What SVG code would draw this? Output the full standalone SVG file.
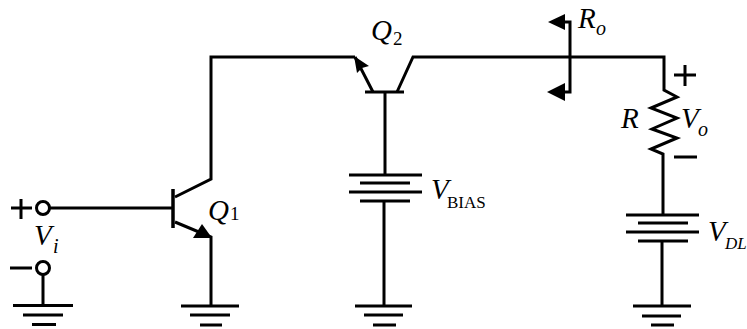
<svg xmlns="http://www.w3.org/2000/svg" width="747" height="329" viewBox="0 0 747 329">
<style>
.w{fill:none;stroke:#000;stroke-width:3;stroke-linejoin:miter}
.t{stroke-width:3.500}
.h{fill:#000;stroke:none}
.c{fill:#fff;stroke:#000;stroke-width:3}
text{font-family:"Liberation Serif","Times New Roman",serif;fill:#000}
.v{font-size:29px;font-style:italic}
.s{font-size:20px;font-style:italic}
.d{font-size:17px;font-style:italic}
.r{font-size:17px}
.r1{font-size:19px}
</style>
<rect width="747" height="329" fill="#fff"/>
<g id="connectors">
<path class="w" d="M50 208H173M43 275V305M175 197L211 179V57H355M175 222L211 237V306"/>
<path class="w" d="M355 57L373 92M397 92L413 57H664V90L677 97L651 108L677 118L652 129L677 138L651 149L663 154V215"/>
<path class="w" d="M385 92V175M384 201V306M662 241V306"/>
<path class="w" d="M563 22H570V92H563"/>
</g>
<g id="input">
<circle class="c" cx="43" cy="208" r="6.500"/>
<circle class="c" cx="43" cy="268" r="6.500"/>
<path class="w" d="M11 208H32M21 199V219M10 268H32"/>
<text class="v" x="34" y="245">V</text><text class="s" x="53" y="253">i</text>
</g>
<g id="q1">
<path class="w t" d="M173 189V228"/>
<path class="h" d="M212 238L193 238L202 224Z"/>
<text class="v" x="208" y="220">Q</text><text class="r1" x="230" y="220">1</text>
</g>
<g id="q2">
<path class="w" d="M365 92H404"/>
<path class="h" d="M354 56L369 66L362 68L357 73Z"/>
<text class="v" x="371" y="40">Q</text><text class="r1" x="393" y="45">2</text>
</g>
<g id="vbias">
<path class="w" d="M349 175H422M360 183H410M349 192H422M360 201H410"/>
<text class="v" x="431" y="199">V</text><text class="r" x="447" y="208">BIAS</text>
</g>
<g id="ro">
<path class="h" d="M548 22L565 14V30Z"/>
<path class="h" d="M547 92L565 83V101Z"/>
<text class="v" x="578" y="28">R</text><text class="s" x="596" y="35">o</text>
</g>
<g id="load">
<path class="w" d="M674 75H696M685 65V86M674 157H697"/>
<text class="v" x="621" y="128">R</text>
<text class="v" x="681" y="128">V</text><text class="s" x="698" y="136">o</text>
</g>
<g id="vdl">
<path class="w" d="M626 215H699M638 223H688M626 232H699M638 241H688"/>
<text class="v" x="708" y="241">V</text><text class="d" x="725" y="249">DL</text>
</g>
<g id="grounds">
<path class="w" d="M13 305.500H73M23 315H63M32 324.500H56"/>
<path class="w" d="M181 306H239M190 315H230M200 325H222"/>
<path class="w" d="M355 306H412M364 315H403M373 325H396"/>
<path class="w" d="M633 306H691M642 316H681M651 325H674"/>
</g>
</svg>
